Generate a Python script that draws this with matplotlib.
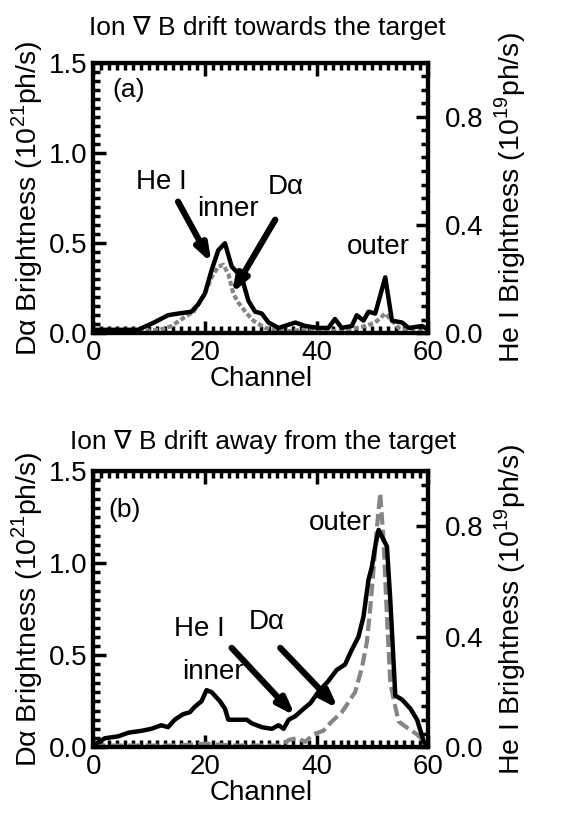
"""
He I and D-alpha brightness profiles across divertor channels
for the two ion grad-B drift directions
"""

import matplotlib
matplotlib.use('Agg')
import matplotlib.pyplot as plt
from matplotlib.ticker import MultipleLocator

plt.rcParams['font.family'] = ['Liberation Sans', 'DejaVu Sans']
plt.rcParams['mathtext.fontset'] = 'custom'
plt.rcParams['mathtext.rm'] = 'Liberation Sans'

# (a) drift towards the target
heI_a_ch = [0, 3, 6, 8, 10.9, 13.4, 15.2, 17.6, 18.8, 20, 21.2, 22.4, 23.6, 24.8, 26.6,
            27.8, 29, 30.2, 31.4, 33.2, 36.2, 38, 40.3, 42.1, 43.3, 44.5, 46.3, 47.2,
            48.4, 49.3, 50.5, 52.3, 53.5, 55.3, 56.5, 58.9, 60]
heI_a = [0.013, 0.013, 0.013, 0.013, 0.04, 0.067, 0.073, 0.08, 0.107, 0.147, 0.233, 0.307,
         0.333, 0.247, 0.207, 0.12, 0.08, 0.073, 0.04, 0.02, 0.04, 0.027, 0.02, 0.02, 0.053,
         0.02, 0.027, 0.067, 0.047, 0.08, 0.073, 0.207, 0.047, 0.04, 0.02, 0.027, 0.013]
da_a_ch = [0, 4, 8, 12, 14, 16.4, 18, 20, 21.2, 22.4, 23.3, 24.2, 25.1, 26, 27.5, 28.7,
           30.8, 34, 38, 42, 45.7, 48.7, 50.5, 52.3, 53.5, 54.7, 57, 60]
da_a = [0.01, 0.01, 0.01, 0.02, 0.04, 0.09, 0.12, 0.22, 0.31, 0.37, 0.38, 0.33, 0.22, 0.17,
        0.11, 0.07, 0.03, 0.01, 0.02, 0.01, 0.02, 0.04, 0.06, 0.11, 0.07, 0.03, 0.01, 0.01]

# (b) drift away from the target
heI_b_ch = [0, 2.1, 4.5, 6.3, 8.7, 10.4, 12.2, 13.4, 14.6, 16.1, 17.3, 18.2, 19.4, 20.3,
            21.2, 22.7, 23.6, 24.2, 27.5, 28.4, 30.2, 32, 33.2, 34.1, 35, 36.2, 37.7, 38.9,
            40.3, 42.1, 43.6, 45.1, 46.3, 47.5, 48.4, 49.3, 49.9, 50.5, 51.1, 52.6, 53.2,
            54.1, 55.3, 56.8, 58, 59.2, 60]
heI_b = [0.007, 0.033, 0.04, 0.053, 0.06, 0.067, 0.08, 0.073, 0.10, 0.12, 0.127, 0.147,
         0.167, 0.207, 0.20, 0.167, 0.14, 0.10, 0.10, 0.087, 0.073, 0.067, 0.08, 0.067,
         0.10, 0.113, 0.14, 0.16, 0.20, 0.24, 0.28, 0.30, 0.353, 0.40, 0.473, 0.607, 0.653,
         0.727, 0.787, 0.727, 0.533, 0.187, 0.173, 0.14, 0.10, 0.02, 0.0]
da_b_ch = [0, 5, 10, 15, 20, 25, 30, 34, 35, 36.5, 38, 39.4, 41.2, 42.7, 44.5, 45.4, 46.9,
           48.1, 49, 49.6, 50.2, 50.8, 51.4, 52, 52.6, 53.2, 54.1, 54.7, 56.5, 58, 59, 60]
da_b = [0.01, 0.01, 0.01, 0.01, 0.02, 0.01, 0.01, 0.01, 0.04, 0.05, 0.03, 0.07, 0.09, 0.14,
        0.19, 0.23, 0.30, 0.43, 0.57, 0.75, 0.97, 1.19, 1.38, 1.12, 0.71, 0.35, 0.22, 0.14,
        0.10, 0.07, 0.04, 0.01]

titles = ['Ion ∇ B drift towards the target', 'Ion ∇ B drift away from the target']
FS = 19
GRAY = '#858585'


def style_axes(ax, ax2):
    ax.set_xlim(0, 60)
    ax.set_ylim(0, 1.5)
    ax2.set_ylim(0, 1.0)
    ax.set_xticks([0, 20, 40, 60])
    ax.xaxis.set_minor_locator(MultipleLocator(10 / 7))
    ax.yaxis.set_major_locator(MultipleLocator(0.5))
    ax.yaxis.set_minor_locator(MultipleLocator(0.05))
    ax2.yaxis.set_major_locator(MultipleLocator(0.4))
    ax2.yaxis.set_minor_locator(MultipleLocator(0.05))
    ax.yaxis.set_major_formatter('{x:.1f}')
    ax2.yaxis.set_major_formatter('{x:.1f}')
    ax.tick_params(axis='x', which='both', direction='in', top=True, bottom=True,
                   labelsize=FS + 1, pad=5)
    ax.tick_params(axis='y', which='both', direction='in', left=True, right=False,
                   labelsize=FS + 1, pad=4)
    ax2.tick_params(axis='y', which='both', direction='in', right=True, left=False,
                    labelsize=FS + 1, pad=12)
    for a in (ax, ax2):
        a.tick_params(which='major', length=9, width=2.5)
        a.tick_params(which='minor', length=5, width=2.5)
        for s in a.spines.values():
            s.set_linewidth(3)
    ax.set_xlabel('Channel', fontsize=FS + 1, labelpad=0)
    ax.set_ylabel('Dα Brightness (10$^{21}$ph/s)', fontsize=FS + 1.5, labelpad=3)
    ax2.set_ylabel('He I Brightness (10$^{19}$ph/s)', fontsize=FS + 1.5, labelpad=6)


fig = plt.figure(figsize=(5.68, 8.15), dpi=100)
ax_a = fig.add_axes([0.164, 0.591, 0.590, 0.332])
ax_b = fig.add_axes([0.164, 0.083, 0.590, 0.339])
ax_a2 = ax_a.twinx()
ax_b2 = ax_b.twinx()

# panel (a)
ax_a.plot(da_a_ch, da_a, color=GRAY, lw=3, ls=(0, (1.2, 0.6)))
ax_a2.plot(heI_a_ch, heI_a, color='black', lw=3.2)
# panel (b)
ax_b.plot(da_b_ch, da_b, color=GRAY, lw=3, ls=(0, (3, 1.2)))
ax_b2.plot(heI_b_ch, heI_b, color='black', lw=3.2)

style_axes(ax_a, ax_a2)
style_axes(ax_b, ax_b2)

arrow = dict(arrowstyle='-|>,head_length=1.0,head_width=0.35', lw=4.5, color='black',
             shrinkA=0, shrinkB=0)

ax_a.text(6.3, 1.35, '(a)', fontsize=FS, ha='center', va='center')
ax_a.text(12.2, 0.84, 'He I', fontsize=FS + 1, ha='center', va='center')
ax_a.text(24.2, 0.69, 'inner', fontsize=FS + 1, ha='center', va='center')
ax_a.text(34.4, 0.81, 'Dα', fontsize=FS + 1, ha='center', va='center')
ax_a.text(51.1, 0.48, 'outer', fontsize=FS + 1, ha='center', va='center')
ax_a.annotate('', xy=(21.2, 0.39), xytext=(15.2, 0.73), arrowprops=arrow)
ax_a.annotate('', xy=(24.8, 0.22), xytext=(32.6, 0.63), arrowprops=arrow)

ax_b.text(5.7, 1.29, '(b)', fontsize=FS, ha='center', va='center')
ax_b.text(44.2, 1.22, 'outer', fontsize=FS + 1, ha='center', va='center')
ax_b.text(19.1, 0.64, 'He I', fontsize=FS + 1, ha='center', va='center')
ax_b.text(31.0, 0.68, 'Dα', fontsize=FS + 1, ha='center', va='center')
ax_b.text(21.5, 0.41, 'inner', fontsize=FS + 1, ha='center', va='center')
ax_b.annotate('', xy=(36.2, 0.17), xytext=(24.8, 0.54), arrowprops=arrow)
ax_b.annotate('', xy=(43.9, 0.21), xytext=(33.5, 0.54), arrowprops=arrow)

fig.text(267 / 568, 1 - 28 / 815, titles[0], fontsize=FS, ha='center', va='center')
fig.text(263 / 568, 1 - 442 / 815, titles[1], fontsize=FS, ha='center', va='center')

fig.savefig('out.png', dpi=100)
